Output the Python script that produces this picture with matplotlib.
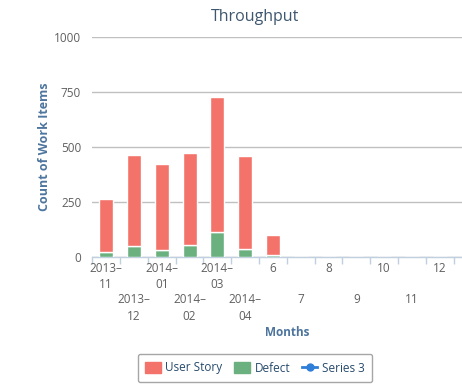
import matplotlib
matplotlib.use("Agg")
import matplotlib.pyplot as plt
from matplotlib.patches import Patch
from matplotlib.lines import Line2D

categories = ["2013–\n11", "2013–\n12", "2014–\n01", "2014–\n02", "2014–\n03", "2014–\n04",
              "6", "7", "8", "9", "10", "11", "12", ""]
user_story = [240, 415, 393, 420, 614, 423, 92, 0, 0, 0, 0, 0, 0, 0]
defect = [25, 49, 30, 53, 112, 36, 8, 0, 0, 0, 0, 0, 0, 0]
y_ticks = [0, 250, 500, 750, 1000]

plt.rcParams['font.family'] = ['Open Sans', 'DejaVu Sans']

W, H = 462, 392
fig = plt.figure(figsize=(W / 100, H / 100), dpi=100)

# plot area in pixels
left_px, right_px = 92.3, 481.5
top_px, bottom_px = 37, 257
ax = fig.add_axes([left_px / W, 1 - bottom_px / H, (right_px - left_px) / W, (bottom_px - top_px) / H])

red = "#F3736A"
green = "#6BB17F"
x = list(range(len(categories)))
ax.bar(x, defect, width=0.5, color=green, edgecolor="white", linewidth=1, zorder=3)
ax.bar(x, user_story, bottom=defect, width=0.5, color=red, edgecolor="white", linewidth=1, zorder=3)

ax.set_xlim(-0.5, len(categories) - 0.5)
ax.set_ylim(0, 1000)
ax.set_yticks(y_ticks)
ax.set_yticklabels([str(v) for v in y_ticks], fontsize=8.5, color="#606060")
ax.yaxis.grid(True, color="#C0C0C0", linewidth=1, zorder=0)
ax.tick_params(axis="y", length=0, pad=8)

for s in ["top", "right", "left"]:
    ax.spines[s].set_visible(False)
ax.spines["bottom"].set_color("#C0D0E0")
ax.spines["bottom"].set_linewidth(1)

ax.set_xticks([i - 0.5 for i in range(len(categories) + 1)])
ax.set_xticklabels([])
ax.tick_params(axis="x", length=5, color="#C0D0E0", width=1)

# staggered category labels
for i, lab in enumerate(categories):
    y_px = 262 if i % 2 == 0 else 293
    fig.text((left_px + (i + 0.5) * (right_px - left_px) / len(categories)) / W, 1 - y_px / H, lab,
             ha="center", va="top", fontsize=8.5, color="#606060", linespacing=1.35)

fig.text(255 / W, 1 - 17 / H, "Throughput", ha="center", va="center", fontsize=11.5, color="#3E576F")
fig.text(287 / W, 1 - 333 / H, "Months", ha="center", va="center", fontsize=8.5,
         color="#4D759E", fontweight="bold")
fig.text(44 / W, 1 - 147 / H, "Count of Work Items", ha="center", va="center", rotation=90,
         fontsize=9, color="#4D759E", fontweight="bold")

handles = [
    Patch(facecolor=red, edgecolor=red, label="User Story"),
    Patch(facecolor=green, edgecolor=green, label="Defect"),
    Line2D([0], [0], color="#2F7ED8", marker="o", markersize=5, linewidth=2, label="Series 3"),
]
leg = fig.legend(handles=handles, loc="center", bbox_to_anchor=(255 / W, 1 - 368 / H), ncol=3,
                 frameon=True, fontsize=8.5, handlelength=1.3, handleheight=1.1, handletextpad=0.4,
                 columnspacing=1.0, borderpad=0.65, fancybox=True)
leg.get_frame().set_edgecolor("#909090")
leg.get_frame().set_linewidth(1)
for t in leg.get_texts():
    t.set_color("#274B6D")

fig.savefig("out.png", dpi=100)
